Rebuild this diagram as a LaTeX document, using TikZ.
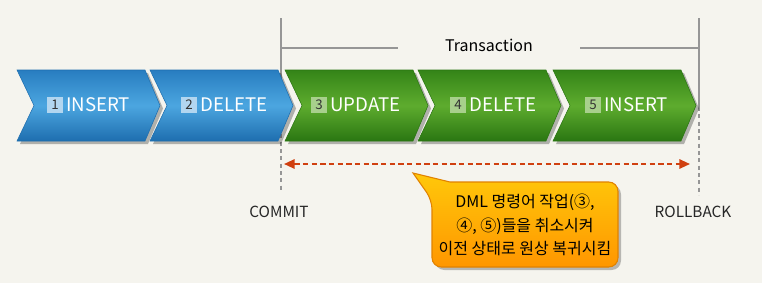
\documentclass[tikz,border=0pt]{standalone}
\usepackage{fontspec}
\setmainfont{Noto Sans CJK KR}
\usetikzlibrary{arrows.meta}
\definecolor{bg}{RGB}{245,244,238}
\definecolor{btop}{RGB}{40,125,192}
\definecolor{bmid}{RGB}{76,166,224}
\definecolor{bbot}{RGB}{30,110,175}
\definecolor{gtop}{RGB}{52,132,24}
\definecolor{gmid}{RGB}{94,172,46}
\definecolor{gbot}{RGB}{42,118,18}
\definecolor{bnum}{RGB}{178,214,240}
\definecolor{gnum}{RGB}{168,208,140}
\definecolor{guide}{RGB}{150,150,150}
\definecolor{arr}{RGB}{208,64,16}
\definecolor{ctop}{RGB}{255,200,10}
\definecolor{cbot}{RGB}{255,150,0}
\definecolor{cedge}{RGB}{225,130,0}
\tikzset{
  chevshadow/.style={fill=black,opacity=0.28},
  bluechev/.style={top color=btop,bottom color=bbot,middle color=bmid,draw=bbot,line width=0.4pt},
  greenchev/.style={top color=gtop,bottom color=gbot,middle color=gmid,draw=gbot,line width=0.4pt},
  chevtext/.style={text=white,font=\fontsize{14}{16}\selectfont,inner sep=0pt,anchor=west},
  numbox/.style={minimum size=11.5pt,inner sep=0pt,text=black!80,font=\fontsize{10}{11}\selectfont},
  guideline/.style={draw=guide,line width=1.5pt},
  guidedash/.style={draw=guide,line width=1.5pt,dash pattern=on 3pt off 2.5pt},
  lbl/.style={text=black!85,font=\fontsize{11.5}{13}\selectfont,inner sep=0pt},
}
\newcommand{\chevpath}[1]{(#1,70) -- (#1+128,70) -- (#1+143,105.5) -- (#1+128,141) -- (#1,141) -- (#1+17,105.5) -- cycle}
\begin{document}
\begin{tikzpicture}[x=0.75pt,y=-0.75pt]
\fill[bg] (0,0) rectangle (762,283);
\useasboundingbox (0,0) rectangle (762,283);
% guide lines
\draw[guideline] (281,18) -- (281,105);
\draw[guidedash] (281,105) -- (281,192);
\draw[guideline] (699,18) -- (699,107);
\draw[guidedash] (699,107) -- (699,195);
\node[font=\fontsize{12}{14}\selectfont,text=black,inner sep=0pt] (trans) at (489,45) {Transaction};
\coordinate (tl) at (281,48);
\coordinate (tr) at (699,48);
\draw[guideline] (tl) -- (398,48);
\draw[guideline] (580,48) -- (tr);
% chevrons
\foreach \L in {17,150,285,418,553}{
  \fill[chevshadow] [shift={(3,3)}] \chevpath{\L};
}
\foreach \L in {17,150}{
  \path[bluechev] \chevpath{\L};
}
\foreach \L in {285,418,553}{
  \path[greenchev] \chevpath{\L};
}
% labels
\node[numbox,fill=bnum] (n1) at (55,105) {1};
\node[chevtext] (t1) at (66,105) {INSERT};
\node[numbox,fill=bnum] (n2) at (189,105) {2};
\node[chevtext] (t2) at (200,105) {DELETE};
\node[numbox,fill=gnum] (n3) at (319,105) {3};
\node[chevtext] (t3) at (330,105) {UPDATE};
\node[numbox,fill=gnum] (n4) at (458,105) {4};
\node[chevtext] (t4) at (469,105) {DELETE};
\node[numbox,fill=gnum] (n5) at (593,105) {5};
\node[chevtext] (t5) at (604,105) {INSERT};
% arrow
\coordinate (al) at (284,164);
\coordinate (ar) at (690,164);
\draw[draw=arr,line width=1.5pt,dash pattern=on 4pt off 2.5pt,{Triangle[length=8pt,width=7pt]}-{Triangle[length=8pt,width=7pt]}] (al) -- (ar);
\node[lbl] (commit) at (279,212) {COMMIT};
\node[lbl] (rollback) at (693,212) {ROLLBACK};
% callout
\fill[black,opacity=0.25] (416,176) -- (453,185) [rounded corners=7] -- (621,185) -- (621,270) -- (435,270) -- (435,203) [sharp corners] -- cycle;
\draw[top color=ctop,bottom color=cbot,draw=cedge,line width=0.8pt] (413,173) -- (450,182) [rounded corners=7] -- (618,182) -- (618,267) -- (432,267) -- (432,200) [sharp corners] -- cycle;
\node[align=center,text=black,font=\fontsize{12}{17.5}\selectfont,inner sep=0pt] (note) at (525,225) {DML 명령어 작업(③,\\④, ⑤)들을 취소시켜\\이전 상태로 원상 복귀시킴};
\end{tikzpicture}
\end{document}
